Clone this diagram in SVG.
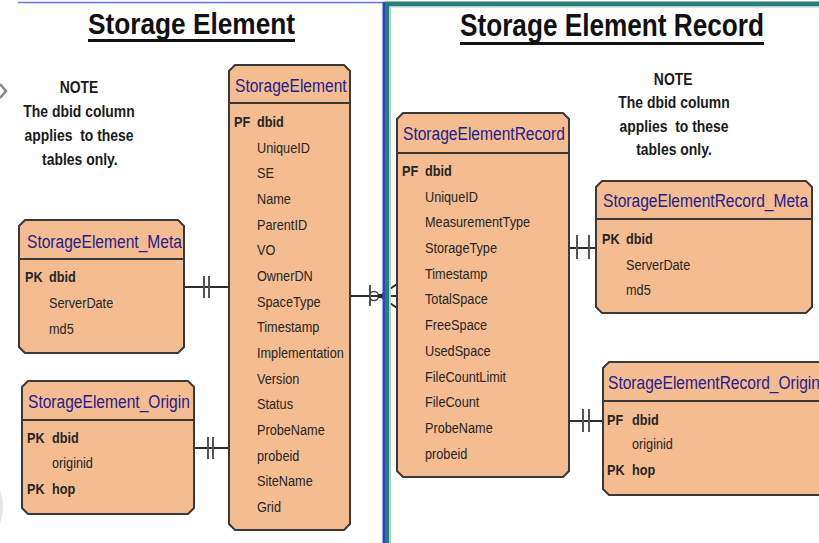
<svg xmlns="http://www.w3.org/2000/svg" width="819" height="543" viewBox="0 0 819 543">
  <style>
    .box { fill: #F4BC91; stroke: #3a3a3a; stroke-width: 2; }
    .sep { stroke: #3a3a3a; stroke-width: 2; }
    .ttl { font-family: "Liberation Sans", Arial, sans-serif; font-size: 19px; fill: #25208a; }
    .fld { font-family: "Liberation Sans", Arial, sans-serif; font-size: 15.5px; fill: #262626; }
    .key { font-weight: bold; }
    .note { font-family: "Liberation Sans", Arial, sans-serif; font-size: 17px; font-weight: bold; fill: #1a1a1a; text-anchor: middle; }
    .head { font-family: "Liberation Sans", Arial, sans-serif; font-weight: bold; fill: #111; }
    .rel { stroke: #2e2e2e; stroke-width: 2; fill: none; }
    .bar { stroke: #555; stroke-width: 2; }
  </style>

  <rect width="819" height="543" fill="#ffffff"/>

  <!-- edge artefacts on the far left -->
  <polyline points="0,84 6,91 0,98" fill="none" stroke="#8a8a8a" stroke-width="2.5"/>
  <path d="M0,490 Q6,507 0,524 Z" fill="#e4e4e4"/>

  <!-- section headings -->
  <g id="heading-left">
    <text class="head" x="88" y="34" font-size="29" textLength="207" lengthAdjust="spacingAndGlyphs">Storage Element</text>
    <rect x="88" y="39" width="207" height="3" fill="#111"/>
  </g>
  <g id="heading-right">
    <text class="head" x="460" y="36" font-size="31" textLength="304" lengthAdjust="spacingAndGlyphs">Storage Element Record</text>
    <rect x="460" y="42" width="304" height="3" fill="#111"/>
  </g>

  <!-- notes (condensed lettering via horizontal scale) -->
  <g id="note-left" transform="translate(79,0) scale(0.82,1)">
    <text class="note" x="0" y="93">NOTE</text>
    <text class="note" x="0" y="117">The dbid column</text>
    <text class="note" x="0" y="141" xml:space="preserve">applies  to these</text>
    <text class="note" x="1" y="165">tables only.</text>
  </g>
  <g id="note-right" transform="translate(674,0) scale(0.82,1)">
    <text class="note" x="-1" y="85">NOTE</text>
    <text class="note" x="0" y="108">The dbid column</text>
    <text class="note" x="0" y="132" xml:space="preserve">applies  to these</text>
    <text class="note" x="0" y="155">tables only.</text>
  </g>

  <!-- connectors -->
  <g id="connectors">
    <!-- StorageElement_Meta to StorageElement -->
    <line class="rel" x1="184" y1="287" x2="229" y2="287"/>
    <line class="bar" x1="204" y1="276" x2="204" y2="298"/>
    <line class="bar" x1="209" y1="276" x2="209" y2="298"/>
    <!-- StorageElement_Origin to StorageElement -->
    <line class="rel" x1="194" y1="448" x2="229" y2="448"/>
    <line class="bar" x1="208" y1="437" x2="208" y2="459"/>
    <line class="bar" x1="213" y1="437" x2="213" y2="459"/>
    <!-- StorageElement to StorageElementRecord -->
    <line class="rel" x1="350" y1="296" x2="397" y2="296"/>
    <line class="bar" x1="370" y1="285" x2="370" y2="306"/>
    <circle cx="374" cy="296" r="4.5" fill="none" stroke="#444" stroke-width="1.5"/>
    <circle cx="380" cy="296" r="2.2" fill="#222"/>
    <line class="rel" x1="380" y1="296" x2="397" y2="284" stroke-width="1.5"/>
    <line class="rel" x1="380" y1="296" x2="397" y2="308" stroke-width="1.5"/>
    <!-- StorageElementRecord to StorageElementRecord_Meta -->
    <line class="rel" x1="569" y1="248" x2="596" y2="248"/>
    <line class="bar" x1="577" y1="235" x2="577" y2="259"/>
    <line class="bar" x1="589" y1="235" x2="589" y2="259"/>
    <!-- StorageElementRecord to StorageElementRecord_Origin -->
    <line class="rel" x1="569" y1="421" x2="603" y2="421"/>
    <line class="bar" x1="583" y1="409" x2="583" y2="432"/>
    <line class="bar" x1="589" y1="409" x2="589" y2="432"/>
  </g>

  <!-- StorageElement -->
  <g id="StorageElement">
    <path class="box" d="M235,65 H344 L350,71 V524 L344,530 H235 L229,524 V71 Z"/>
    <line class="sep" x1="229" y1="103" x2="350" y2="103"/>
    <g transform="translate(235,0) scale(0.82,1)">
      <text class="ttl" x="0" y="92">StorageElement</text>
    </g>
    <g transform="translate(234,0) scale(0.82,1)">
      <text class="fld key" x="0" y="127">PF</text>
    </g>
    <g transform="translate(257,0) scale(0.82,1)">
      <text class="fld key" x="0" y="127">dbid</text>
      <text class="fld" x="0" y="152.7">UniqueID</text>
      <text class="fld" x="0" y="178.3">SE</text>
      <text class="fld" x="0" y="204">Name</text>
      <text class="fld" x="0" y="229.7">ParentID</text>
      <text class="fld" x="0" y="255.3">VO</text>
      <text class="fld" x="0" y="281">OwnerDN</text>
      <text class="fld" x="0" y="306.7">SpaceType</text>
      <text class="fld" x="0" y="332.4">Timestamp</text>
      <text class="fld" x="0" y="358">Implementation</text>
      <text class="fld" x="0" y="383.7">Version</text>
      <text class="fld" x="0" y="409.4">Status</text>
      <text class="fld" x="0" y="435">ProbeName</text>
      <text class="fld" x="0" y="460.7">probeid</text>
      <text class="fld" x="0" y="486.4">SiteName</text>
      <text class="fld" x="0" y="512">Grid</text>
    </g>
  </g>

  <!-- StorageElement_Meta -->
  <g id="StorageElement_Meta">
    <path class="box" d="M25,220 H178 L184,226 V347 L178,353 H25 L19,347 V226 Z"/>
    <line class="sep" x1="19" y1="259" x2="184" y2="259"/>
    <g transform="translate(27,0) scale(0.82,1)">
      <text class="ttl" x="0" y="248">StorageElement_Meta</text>
    </g>
    <g transform="translate(25,0) scale(0.82,1)">
      <text class="fld key" x="0" y="282">PK</text>
    </g>
    <g transform="translate(49,0) scale(0.82,1)">
      <text class="fld key" x="0" y="282">dbid</text>
      <text class="fld" x="0" y="308">ServerDate</text>
      <text class="fld" x="0" y="334">md5</text>
    </g>
  </g>

  <!-- StorageElement_Origin -->
  <g id="StorageElement_Origin">
    <path class="box" d="M28,381 H188 L194,387 V508 L188,514 H28 L22,508 V387 Z"/>
    <line class="sep" x1="22" y1="420" x2="194" y2="420"/>
    <g transform="translate(28,0) scale(0.82,1)">
      <text class="ttl" x="0" y="408">StorageElement_Origin</text>
    </g>
    <g transform="translate(27,0) scale(0.82,1)">
      <text class="fld key" x="0" y="443">PK</text>
      <text class="fld key" x="0" y="494">PK</text>
    </g>
    <g transform="translate(52,0) scale(0.82,1)">
      <text class="fld key" x="0" y="443">dbid</text>
      <text class="fld" x="0" y="468">originid</text>
      <text class="fld key" x="0" y="494">hop</text>
    </g>
  </g>

  <!-- StorageElementRecord -->
  <g id="StorageElementRecord">
    <path class="box" d="M403,113 H563 L569,119 V471 L563,477 H403 L397,471 V119 Z"/>
    <line class="sep" x1="397" y1="153" x2="569" y2="153"/>
    <g transform="translate(403,0) scale(0.82,1)">
      <text class="ttl" x="0" y="140">StorageElementRecord</text>
    </g>
    <g transform="translate(402,0) scale(0.82,1)">
      <text class="fld key" x="0" y="176">PF</text>
    </g>
    <g transform="translate(425,0) scale(0.82,1)">
      <text class="fld key" x="0" y="176">dbid</text>
      <text class="fld" x="0" y="201.7">UniqueID</text>
      <text class="fld" x="0" y="227.4">MeasurementType</text>
      <text class="fld" x="0" y="253.1">StorageType</text>
      <text class="fld" x="0" y="278.8">Timestamp</text>
      <text class="fld" x="0" y="304.5">TotalSpace</text>
      <text class="fld" x="0" y="330.2">FreeSpace</text>
      <text class="fld" x="0" y="355.9">UsedSpace</text>
      <text class="fld" x="0" y="381.6">FileCountLimit</text>
      <text class="fld" x="0" y="407.3">FileCount</text>
      <text class="fld" x="0" y="433">ProbeName</text>
      <text class="fld" x="0" y="458.7">probeid</text>
    </g>
  </g>

  <!-- StorageElementRecord_Meta -->
  <g id="StorageElementRecord_Meta">
    <path class="box" d="M602,181 H806 L812,187 V307 L806,313 H602 L596,307 V187 Z"/>
    <line class="sep" x1="596" y1="219" x2="812" y2="219"/>
    <g transform="translate(603,0) scale(0.82,1)">
      <text class="ttl" x="0" y="207">StorageElementRecord_Meta</text>
    </g>
    <g transform="translate(602,0) scale(0.82,1)">
      <text class="fld key" x="0" y="244">PK</text>
    </g>
    <g transform="translate(626,0) scale(0.82,1)">
      <text class="fld key" x="0" y="244">dbid</text>
      <text class="fld" x="0" y="270">ServerDate</text>
      <text class="fld" x="0" y="295">md5</text>
    </g>
  </g>

  <!-- StorageElementRecord_Origin (runs past the right edge) -->
  <g id="StorageElementRecord_Origin">
    <path class="box" d="M609,362 H850 V495 H609 L603,489 V368 Z"/>
    <line class="sep" x1="603" y1="401" x2="850" y2="401"/>
    <g transform="translate(608,0) scale(0.82,1)">
      <text class="ttl" x="0" y="389">StorageElementRecord_Origin</text>
    </g>
    <g transform="translate(607,0) scale(0.82,1)">
      <text class="fld key" x="0" y="425">PF</text>
      <text class="fld key" x="0" y="475">PK</text>
    </g>
    <g transform="translate(632,0) scale(0.82,1)">
      <text class="fld key" x="0" y="425">dbid</text>
      <text class="fld" x="0" y="449">originid</text>
      <text class="fld key" x="0" y="475">hop</text>
    </g>
  </g>

  <!-- panel divider -->
  <g id="divider">
    <line x1="18" y1="2.5" x2="385" y2="2.5" stroke="#6b6bff" stroke-width="1.5"/>
    <rect x="382.5" y="2" width="2.5" height="541" fill="#2f3fd0"/>
    <rect x="385" y="2" width="4" height="541" fill="#2b7b78"/>
    <rect x="389" y="6" width="2" height="537" fill="#a9d3cf"/>
    <rect x="385" y="1.5" width="434" height="4.5" fill="#2b7b78"/>
    <rect x="389" y="6" width="430" height="1.5" fill="#a9d3cf"/>
  </g>
</svg>
